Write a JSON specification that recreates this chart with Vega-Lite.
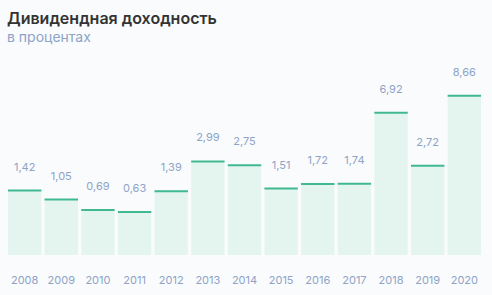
{
  "$schema": "https://vega.github.io/schema/vega-lite/v6.json",
  "width": 473,
  "height": 195,
  "autosize": {"type": "none"},
  "padding": {"left": 8, "top": 60, "right": 11, "bottom": 40},
  "background": "#f9fbfd",
  "title": {
    "text": "Дивидендная доходность",
    "subtitle": "в процентах",
    "anchor": "start",
    "frame": "group",
    "dx": -1,
    "offset": 15,
    "font": "Inter",
    "fontSize": 16,
    "fontWeight": 600,
    "color": "#333333",
    "subtitleFont": "Inter",
    "subtitleFontSize": 14,
    "subtitleColor": "#8ea3c6",
    "subtitlePadding": 4
  },
  "config": {
    "view": {"stroke": null},
    "locale": {"number": {"decimal": ",", "thousands": " ", "grouping": [3], "currency": ["", " ₽"]}}
  },
  "data": {
    "values": [
      {"year": "2008", "value": 1.42},
      {"year": "2009", "value": 1.05},
      {"year": "2010", "value": 0.69},
      {"year": "2011", "value": 0.63},
      {"year": "2012", "value": 1.39},
      {"year": "2013", "value": 2.99},
      {"year": "2014", "value": 2.75},
      {"year": "2015", "value": 1.51},
      {"year": "2016", "value": 1.72},
      {"year": "2017", "value": 1.74},
      {"year": "2018", "value": 6.92},
      {"year": "2019", "value": 2.72},
      {"year": "2020", "value": 8.66}
    ]
  },
  "encoding": {
    "x": {
      "field": "year",
      "type": "ordinal",
      "scale": {"paddingInner": 0.09, "paddingOuter": 0},
      "axis": {
        "title": null,
        "domain": false,
        "ticks": false,
        "labelAngle": 0,
        "labelPadding": 19,
        "labelFont": "Inter",
        "labelFontSize": 11,
        "labelColor": "#8ea3c6"
      }
    },
    "y": {
      "field": "value",
      "type": "quantitative",
      "scale": {"type": "sqrt", "domain": [0, 13]},
      "axis": null
    }
  },
  "layer": [
    {"mark": {"type": "bar", "color": "#e4f5ef"}},
    {"mark": {"type": "tick", "color": "#40b990", "opacity": 1, "thickness": 2, "size": 33.4, "orient": "horizontal"}},
    {
      "mark": {"type": "text", "baseline": "middle", "dy": -23, "font": "Inter", "fontSize": 11, "color": "#8ea3c6"},
      "encoding": {"text": {"field": "value", "type": "quantitative", "format": ".2f"}}
    }
  ]
}
